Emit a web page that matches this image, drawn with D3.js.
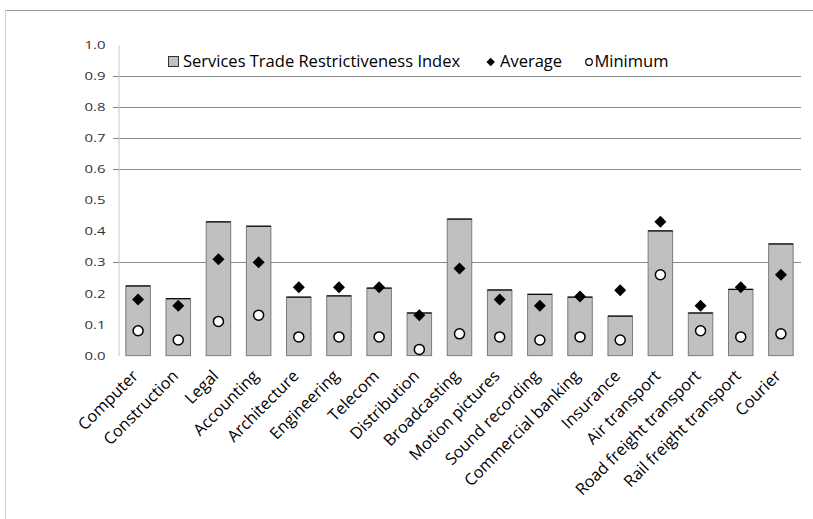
<!DOCTYPE html>
<html>
<head>
<meta charset="utf-8">
<script src="https://cdn.jsdelivr.net/npm/d3@7"></script>
<style>
  html, body { margin: 0; padding: 0; background: #fff; }
  svg { display: block; }
  text { font-family: "Open Sans", "DejaVu Sans", sans-serif; }
</style>
</head>
<body>
<svg id="chart" width="813" height="519"></svg>
<script>
// Sectors and their scores
const categories = ["Computer", "Construction", "Legal", "Accounting", "Architecture",
  "Engineering", "Telecom", "Distribution", "Broadcasting", "Motion pictures",
  "Sound recording", "Commercial banking", "Insurance", "Air transport",
  "Road freight transport", "Rail freight transport", "Courier"];
const stri = [0.224, 0.183, 0.430, 0.416, 0.188, 0.192, 0.217, 0.137, 0.439,
  0.211, 0.197, 0.188, 0.127, 0.401, 0.137, 0.213, 0.359];
const average = [0.18, 0.16, 0.31, 0.30, 0.22, 0.22, 0.22, 0.13, 0.28,
  0.18, 0.16, 0.19, 0.21, 0.43, 0.16, 0.22, 0.26];
const minimum = [0.08, 0.05, 0.11, 0.13, 0.06, 0.06, 0.06, 0.02, 0.07,
  0.06, 0.05, 0.06, 0.05, 0.26, 0.08, 0.06, 0.07];
const yTicks = [0.0, 0.1, 0.2, 0.3, 0.4, 0.5, 0.6, 0.7, 0.8, 0.9, 1.0];
const gridValues = [0.3, 0.6, 0.7, 0.8, 0.9];
const legendLabels = ["Services Trade Restrictiveness Index", "Average", "Minimum"];

const svg = d3.select("#chart");

// Frame around the chart area
svg.append("line").attr("x1", 5.5).attr("x2", 813).attr("y1", 10.5).attr("y2", 10.5)
  .attr("stroke", "#9a9a9a").attr("stroke-width", 1);
svg.append("line").attr("x1", 5.5).attr("x2", 5.5).attr("y1", 10.5).attr("y2", 519)
  .attr("stroke", "#d0d0d0").attr("stroke-width", 1);

const x = d3.scaleBand().domain(categories).range([118, 801]).paddingInner(0.39).paddingOuter(0.195);
const y = d3.scaleLinear().domain([0, 1]).range([355.6, 44.6]);

// Horizontal gridlines
svg.append("g").selectAll("line").data(gridValues).join("line")
  .attr("x1", 113).attr("x2", 801)
  .attr("y1", d => Math.round(y(d)) + 0.5).attr("y2", d => Math.round(y(d)) + 0.5)
  .attr("stroke", "#8a8a8a").attr("stroke-width", 1);

// Y axis; labels are drawn slightly widened
const yAxis = d3.axisLeft(y).tickValues(yTicks).tickFormat(d3.format(".1f")).tickSize(0).tickPadding(10);
const gy = svg.append("g").attr("transform", "translate(118.5,0)").call(yAxis);
gy.select(".domain").attr("stroke", "#c8c8c8");
gy.selectAll("text").attr("font-size", 11.5).attr("fill", "#333")
  .attr("transform", "scale(1.3,1)");

// Bars
const bars = svg.append("g").selectAll("g").data(categories).join("g");
bars.append("rect")
  .attr("x", d => x(d))
  .attr("y", (d, i) => y(stri[i]))
  .attr("width", x.bandwidth())
  .attr("height", (d, i) => y(0) - y(stri[i]))
  .attr("fill", "#c0c0c0").attr("stroke", "#7a7a7a").attr("stroke-width", 1);
bars.append("line")
  .attr("x1", d => x(d)).attr("x2", d => x(d) + x.bandwidth())
  .attr("y1", (d, i) => y(stri[i])).attr("y2", (d, i) => y(stri[i]))
  .attr("stroke", "#000").attr("stroke-width", 1.2);

// Average markers (diamonds)
const diamond = d3.symbol().type(d3.symbolSquare).size(72);
svg.append("g").selectAll("path").data(categories).join("path")
  .attr("d", diamond)
  .attr("transform", (d, i) => `translate(${x(d) + x.bandwidth() / 2},${y(average[i])}) rotate(45)`)
  .attr("fill", "#000");

// Minimum markers (open circles)
svg.append("g").selectAll("circle").data(categories).join("circle")
  .attr("cx", d => x(d) + x.bandwidth() / 2)
  .attr("cy", (d, i) => y(minimum[i]))
  .attr("r", 5)
  .attr("fill", "#fff").attr("stroke", "#000").attr("stroke-width", 1.5);

// Category labels, rotated
svg.append("g").selectAll("text").data(categories).join("text")
  .attr("transform", d => `translate(${x(d) + x.bandwidth() / 2 + 1},${377}) rotate(-45)`)
  .attr("text-anchor", "end")
  .attr("font-size", 16.3)
  .attr("fill", "#000")
  .text(d => d);

// Legend
const lg = svg.append("g").attr("font-size", 16.5).attr("fill", "#000");
lg.append("rect").attr("x", 168.5).attr("y", 56.5).attr("width", 10).attr("height", 10)
  .attr("fill", "#c0c0c0").attr("stroke", "#333").attr("stroke-width", 1);
lg.append("text").attr("x", 183).attr("y", 67).text(legendLabels[0]);
lg.append("path").attr("d", d3.symbol().type(d3.symbolSquare).size(36))
  .attr("transform", "translate(490.7,62) rotate(45)").attr("fill", "#000");
lg.append("text").attr("x", 500).attr("y", 67).text(legendLabels[1]);
lg.append("circle").attr("cx", 589).attr("cy", 62).attr("r", 3.3)
  .attr("fill", "#fff").attr("stroke", "#000").attr("stroke-width", 1.2);
lg.append("text").attr("x", 594.5).attr("y", 67).text(legendLabels[2]);
</script>
</body>
</html>
